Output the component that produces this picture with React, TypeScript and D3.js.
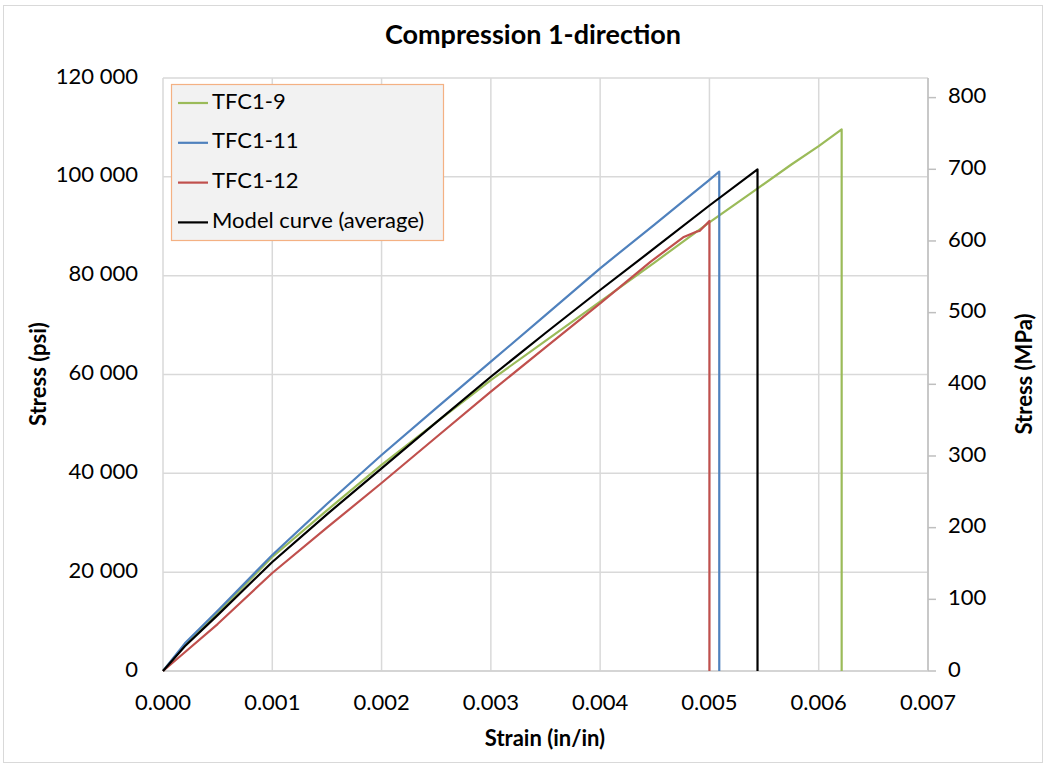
import * as d3 from 'd3';

const MARGIN = { top: 78, right: 119, bottom: 97, left: 163 };
const width = 1047,
  height = 768;

// strain (in/in) and stress (psi)
const strain9 = [0, 0.0002, 0.0005, 0.001, 0.0015, 0.002, 0.0025, 0.003, 0.0035, 0.004, 0.0045, 0.005, 0.0054, 0.00575, 0.006, 0.00621, 0.00621];
const stress9 = [0, 5200, 11800, 23070, 32500, 41700, 50300, 58880, 66800, 74730, 82700, 90800, 97000, 102500, 106200, 109610, 0];

const strain11 = [0, 0.0002, 0.0005, 0.001, 0.0015, 0.002, 0.0025, 0.003, 0.0035, 0.004, 0.0045, 0.0048, 0.005, 0.00509, 0.00509];
const stress11 = [0, 5600, 12200, 23470, 33800, 43700, 53200, 62590, 72000, 81490, 90400, 95800, 99400, 101040, 0];

const strain12 = [0, 0.0002, 0.0005, 0.001, 0.0015, 0.002, 0.0025, 0.003, 0.0035, 0.004, 0.00446, 0.00476, 0.00488, 0.00491, 0.005, 0.005];
const stress12 = [0, 3800, 9500, 19830, 29000, 38040, 47300, 56520, 65500, 74400, 82800, 87760, 88900, 89030, 91060, 0];

const strainModel = [0, 0.0002, 0.0005, 0.001, 0.0015, 0.002, 0.0025, 0.003, 0.0035, 0.004, 0.0045, 0.005, 0.00544, 0.00544];
const stressModel = [0, 5000, 11300, 22060, 31700, 41020, 50300, 59550, 68400, 77100, 85600, 94200, 101500, 0];

const seriesNames = ['TFC1-9', 'TFC1-11', 'TFC1-12', 'Model curve (average)'];
const seriesColors = ['#9bbb59', '#4f81bd', '#c0504d', '#000000'];

const xTicks = [0, 0.001, 0.002, 0.003, 0.004, 0.005, 0.006, 0.007];
const yTicksPsi = [0, 20000, 40000, 60000, 80000, 100000, 120000];
const yTicksMPa = [0, 100, 200, 300, 400, 500, 600, 700, 800];

const PSI_TO_MPA = 0.00689476;
const FONT = 'Lato, Carlito, Calibri, sans-serif';

export default function App() {
  const boundsWidth = width - MARGIN.left - MARGIN.right;
  const boundsHeight = height - MARGIN.top - MARGIN.bottom;

  const xScale = d3.scaleLinear().domain([0, 0.007]).range([0, boundsWidth]);
  const yScale = d3.scaleLinear().domain([0, 120000]).range([boundsHeight, 0]);
  const yScaleR = d3.scaleLinear().domain([0, 120000 * PSI_TO_MPA]).range([boundsHeight, 0]);

  const fmt = (v: number) => d3.format(',')(v).replace(/,/g, ' ');

  const line = d3
    .line<[number, number]>()
    .x(d => xScale(d[0]))
    .y(d => yScale(d[1]));

  const series = [
    [strain9, stress9],
    [strain11, stress11],
    [strain12, stress12],
    [strainModel, stressModel],
  ].map(([xs, ys]) => xs.map((x, i) => [x, ys[i]] as [number, number]));

  return (
    <svg width={width} height={height} style={{ position: 'absolute', left: 0, top: 0 }} fontFamily={FONT}>
      <rect x={0} y={0} width={width} height={height} fill="#ffffff" />
      <rect x={3.5} y={5.5} width={1039} height={757} fill="none" stroke="#d9d9d9" />
      <text x={533} y={37} textAnchor="middle" dominantBaseline="middle" fontSize={27} fontWeight="bold">
        Compression 1-direction
      </text>
      <g transform={`translate(${MARGIN.left},${MARGIN.top})`}>
        {/* grid */}
        {xTicks.map((t, i) => (
          <line key={'gx' + i} x1={xScale(t)} x2={xScale(t)} y1={0} y2={boundsHeight} stroke="#d9d9d9" strokeWidth={1.5} />
        ))}
        {yTicksPsi.map((t, i) => (
          <line key={'gy' + i} x1={0} x2={boundsWidth} y1={yScale(t)} y2={yScale(t)} stroke="#d9d9d9" strokeWidth={1.5} />
        ))}
        {/* right axis */}
        <line x1={boundsWidth} x2={boundsWidth} y1={0} y2={boundsHeight} stroke="#bfbfbf" strokeWidth={1.5} />
        {yTicksMPa.map((t, i) => (
          <g key={'ry' + i}>
            <line x1={boundsWidth} x2={boundsWidth + 8} y1={yScaleR(t)} y2={yScaleR(t)} stroke="#bfbfbf" strokeWidth={1.5} />
            <text x={boundsWidth + 20} y={yScaleR(t)} dominantBaseline="middle" fontSize={22} fill="#000">
              {t}
            </text>
          </g>
        ))}
        <line x1={0} x2={boundsWidth} y1={boundsHeight} y2={boundsHeight} stroke="#d0d0d0" strokeWidth={1.5} />
        {/* left labels */}
        {yTicksPsi.map((t, i) => (
          <text key={'ly' + i} x={-25} y={yScale(t)} textAnchor="end" dominantBaseline="middle" fontSize={22}>
            {fmt(t)}
          </text>
        ))}
        {xTicks.map((t, i) => (
          <text key={'lx' + i} x={xScale(t)} y={boundsHeight + 33} textAnchor="middle" dominantBaseline="middle" fontSize={22}>
            {t.toFixed(3)}
          </text>
        ))}
        {/* series */}
        {series.map((pts, i) => (
          <path key={'s' + i} d={line(pts) ?? ''} fill="none" stroke={seriesColors[i]} strokeWidth={2.2} strokeLinejoin="round" />
        ))}
        {/* legend */}
        <rect x={8.5} y={6.5} width={272} height={156} fill="#f2f2f2" stroke="#f4b183" strokeWidth={1.2} />
        {seriesNames.map((name, i) => (
          <g key={'lg' + i} transform={`translate(15,${25 + i * 39.8})`}>
            <line x1={0} x2={30} y1={0} y2={0} stroke={seriesColors[i]} strokeWidth={2.2} />
            <text x={34} y={0} dominantBaseline="middle" fontSize={22}>
              {name}
            </text>
          </g>
        ))}
      </g>
      {/* axis titles */}
      <text x={545} y={740} textAnchor="middle" dominantBaseline="middle" fontSize={22} fontWeight="bold">
        Strain (in/in)
      </text>
      <text transform="translate(40,374) rotate(-90)" textAnchor="middle" dominantBaseline="middle" fontSize={22} fontWeight="bold">
        Stress (psi)
      </text>
      <text transform="translate(1026,374) rotate(-90)" textAnchor="middle" dominantBaseline="middle" fontSize={22} fontWeight="bold">
        Stress (MPa)
      </text>
    </svg>
  );
}
